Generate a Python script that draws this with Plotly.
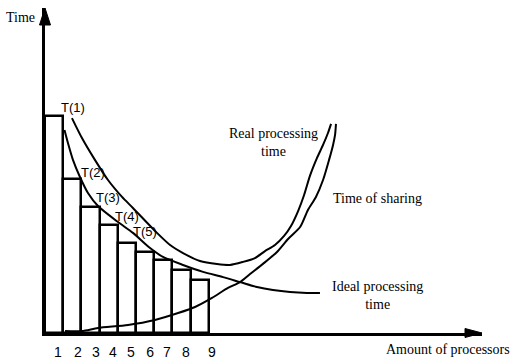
import plotly.graph_objects as go

# ---- data ----
processors = [1, 2, 3, 4, 5, 6, 7, 8, 9]
bar_times = [100, 71.1, 58.3, 49.8, 41.7, 37.4, 33.5, 29.2, 24.6]
bar_labels = ["T(1)", "T(2)", "T(3)", "T(4)", "T(5)"]

tick_text = ["1", "2", "3", "4", "5", "6", "7", "8", "9"]
tick_pos = [0.71, 1.81, 2.80, 3.73, 4.72, 5.77, 6.70, 7.74, 9.17]

real_x = [1.48, 2.03, 2.75, 3.46, 4.23, 4.83, 6.15, 6.87, 7.58, 8.51, 9.45, 10.16,
          10.87, 11.53, 12.08, 12.63, 13.13, 13.51, 13.90, 14.23, 14.55, 14.94,
          15.27, 15.54, 15.71]
real_y = [99.2, 90.0, 79.8, 70.6, 62.8, 57.7, 46.2, 40.6, 36.9, 33.2, 31.8, 31.4,
          32.8, 34.6, 37.8, 40.6, 44.8, 49.4, 56.3, 63.7, 72.5, 80.8, 86.8, 92.3, 96.5]

share_x = [1.10, 2.03, 2.91, 4.56, 6.04, 7.31, 8.24, 9.17, 10.05, 10.71, 11.26,
           11.97, 12.74, 13.35, 14.01, 14.44, 14.88, 15.27, 15.60, 15.82, 15.93, 15.98]
share_y = [0.9, 0.9, 2.3, 3.7, 6.0, 9.2, 12.0, 16.2, 20.8, 23.5, 27.2, 31.9, 37.4,
           43.4, 48.9, 56.8, 62.8, 70.6, 79.9, 86.8, 91.4, 96.5]

ideal_x = [1.07, 1.26, 1.54, 1.92, 2.36, 2.91, 4.01, 4.83, 5.77, 6.48, 7.58, 8.68,
           9.78, 10.71, 11.64, 12.52, 13.46, 14.39, 15.10]
ideal_y = [93.7, 87.7, 79.8, 72.0, 64.6, 58.6, 51.2, 46.2, 39.2, 35.1, 31.4, 28.2,
           25.8, 23.5, 21.2, 19.8, 18.9, 18.5, 18.5]

SERIF = "Liberation Serif, Times New Roman, serif"
SANS = "Liberation Sans, Arial, sans-serif"

fig = go.Figure()
fig.add_trace(go.Bar(x=processors, y=bar_times, width=1, offset=-1,
                     marker=dict(color="white", line=dict(color="black", width=2.5)),
                     hoverinfo="skip"))
curve_style = dict(color="black", width=2, shape="spline", smoothing=0.7)
for xs, ys in [(real_x, real_y), (share_x, share_y), (ideal_x, ideal_y)]:
    fig.add_trace(go.Scatter(x=xs, y=ys, mode="lines", line=curve_style,
                             hoverinfo="skip", cliponaxis=False))

annots = []
t_pos = [(0.064, 0.695), (0.1087, 0.495), (0.144, 0.418), (0.188, 0.357), (0.229, 0.311)]
for txt, (px, py) in zip(bar_labels, t_pos):
    annots.append(dict(text=txt, x=px, y=py, xref="paper", yref="paper",
                       xanchor="center", yanchor="middle",
                       showarrow=False, font=dict(family=SANS, size=13, color="black")))
serif_labels = [
    ("Time", -0.0572, 0.972),
    ("Real processing<br>time", 0.522, 0.585),
    ("Time of sharing", 0.760, 0.415),
    ("Ideal processing<br>time", 0.760, 0.114),
    ("Amount of processors", 0.922, -0.052),
]
for txt, px, py in serif_labels:
    annots.append(dict(text=txt, x=px, y=py, xref="paper", yref="paper",
                       xanchor="center", yanchor="middle",
                       showarrow=False, font=dict(family=SERIF, size=14, color="black")))

shapes = [
    dict(type="path", xref="paper", yref="paper", xsizemode="pixel", ysizemode="pixel",
         xanchor=1, yanchor=0, path="M0,0 L-17,4.5 L-17,-4.5 Z",
         fillcolor="black", line=dict(color="black", width=1)),
    dict(type="path", xref="paper", yref="paper", xsizemode="pixel", ysizemode="pixel",
         xanchor=0, yanchor=1, path="M0,0 L-5.5,-17 L5.5,-17 Z",
         fillcolor="black", line=dict(color="black", width=1)),
]

fig.update_layout(
    width=515, height=362,
    margin=dict(l=45, r=33, t=8, b=29, autoexpand=False),
    paper_bgcolor="white", plot_bgcolor="white",
    showlegend=False, bargap=0,
    annotations=annots, shapes=shapes,
    xaxis=dict(range=[0, 24], showgrid=False, zeroline=False, showline=True,
               linecolor="black", linewidth=3, tickmode="array",
               tickvals=tick_pos, ticktext=tick_text, ticks="outside", ticklen=4,
               tickcolor="rgba(0,0,0,0)", automargin=False,
               tickfont=dict(family=SANS, size=14, color="black"), fixedrange=True),
    yaxis=dict(range=[0, 150], showgrid=False, zeroline=False, showline=True,
               linecolor="black", linewidth=3, showticklabels=False, ticks="",
               automargin=False, fixedrange=True),
)

fig.write_html("out.html", config={"displayModeBar": False},
               post_script="document.body.style.margin='0';document.body.style.overflow='hidden';")
